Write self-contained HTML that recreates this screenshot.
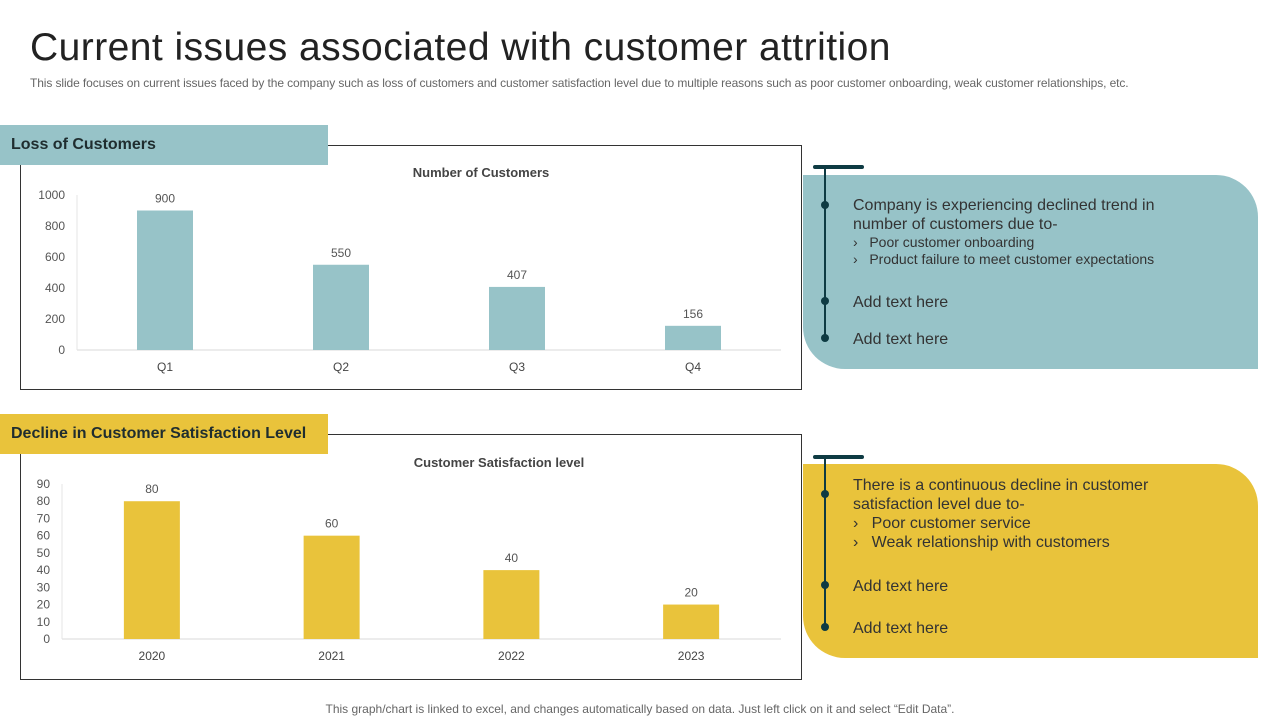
<!DOCTYPE html>
<html><head><meta charset="utf-8"><style>
body{margin:0;width:1280px;height:720px;background:#fff;font-family:"Liberation Sans",sans-serif;position:relative;overflow:hidden}
.abs{position:absolute}
.h1{left:30px;top:26px;font-size:39px;color:#222;letter-spacing:0.45px}
.sub{left:30px;top:76px;font-size:12px;color:#666;letter-spacing:-0.1px}
.hdr{left:0;width:328px;height:40px;font-size:16px;font-weight:bold;color:#1f2d2f;line-height:40px;padding-left:11px;box-sizing:border-box}
.box{left:20px;width:782px;border:1px solid #333;box-sizing:border-box}
.panel{left:803px;width:455px;border-radius:0 42px 0 42px}
.txt{font-size:16px;color:#333;line-height:19px}
.foot{left:0;width:1280px;top:702px;text-align:center;font-size:12px;color:#666}
</style></head><body>
<div class="abs h1">Current issues associated with customer attrition</div>
<div class="abs sub">This slide focuses on current issues faced by the company such as loss of customers and customer satisfaction level due to multiple reasons such as poor customer onboarding, weak customer relationships, etc.</div>

<div class="abs box" style="top:145px;height:245px"></div>
<div class="abs hdr" style="top:125px;background:#97C3C8">Loss of Customers</div>
<div class="abs box" style="top:434px;height:246px"></div>
<div class="abs hdr" style="top:414px;background:#E9C33B">Decline in Customer Satisfaction Level</div>

<svg class="abs" style="left:0;top:0" width="1280" height="720" id="charts"></svg>

<div class="abs panel" style="top:175px;height:194px;background:#97C3C8"></div>
<div class="abs panel" style="top:464px;height:194px;background:#E9C33B"></div>

<svg class="abs" style="left:0;top:0" width="1280" height="720">
<rect x="813" y="165" width="51" height="4" rx="2" fill="#0E3B43"/>
<line x1="825" y1="167" x2="825" y2="340" stroke="#0E3B43" stroke-width="2"/>
<circle cx="825" cy="205" r="4" fill="#0E3B43"/><circle cx="825" cy="301" r="4" fill="#0E3B43"/><circle cx="825" cy="338" r="4" fill="#0E3B43"/>
<rect x="813" y="455" width="51" height="4" rx="2" fill="#0E3B43"/>
<line x1="825" y1="457" x2="825" y2="629" stroke="#0E3B43" stroke-width="2"/>
<circle cx="825" cy="494" r="4" fill="#0E3B43"/><circle cx="825" cy="585" r="4" fill="#0E3B43"/><circle cx="825" cy="627" r="4" fill="#0E3B43"/>
</svg>

<div class="abs txt" style="left:853px;top:196px">Company is experiencing declined trend in<br>number of customers due to-</div>
<div class="abs txt" style="left:853px;top:234px;font-size:14px;line-height:17px">›&nbsp;&nbsp; Poor customer onboarding<br>›&nbsp;&nbsp; Product failure to meet customer expectations</div>
<div class="abs txt" style="left:853px;top:293px">Add text here</div>
<div class="abs txt" style="left:853px;top:330px">Add text here</div>

<div class="abs txt" style="left:853px;top:476px">There is a continuous decline in customer<br>satisfaction level due to-<br>›&nbsp;&nbsp; Poor customer service<br>›&nbsp;&nbsp; Weak relationship with customers</div>
<div class="abs txt" style="left:853px;top:577px">Add text here</div>
<div class="abs txt" style="left:853px;top:619px">Add text here</div>

<div class="abs foot">This graph/chart is linked to excel, and changes automatically based on data. Just left click on it and select “Edit Data”.</div>

<script>
const quarters=["Q1","Q2","Q3","Q4"];
const customers=[900,550,407,156];
const custTicks=[0,200,400,600,800,1000];
const years=["2020","2021","2022","2023"];
const satisfaction=[80,60,40,20];
const satTicks=[0,10,20,30,40,50,60,70,80,90];

const svg=document.getElementById('charts');
const NS="http://www.w3.org/2000/svg";
function mk(tag,attrs,text){const e=document.createElementNS(NS,tag);for(const k in attrs)e.setAttribute(k,attrs[k]);if(text!==undefined)e.textContent=text;svg.appendChild(e);return e;}
function chart(o){
  const y=v=>o.base-(v/o.max)*(o.base-o.top);
  const bw=(o.right-o.left)/o.cats.length;
  const x=i=>o.left+bw*(i+0.5);
  let t=mk('text',{x:o.titleX,y:o.titleY,'text-anchor':'middle','font-size':13,'font-weight':'bold',fill:'#444'},o.title);
  
  
  mk('line',{x1:o.left,y1:o.base,x2:o.right,y2:o.base,stroke:'#d9d9d9','stroke-width':1});
  mk('line',{x1:o.left,y1:o.top,x2:o.left,y2:o.base,stroke:'#e5e5e5','stroke-width':1});
  o.ticks.forEach(v=>{
    const e=mk('text',{x:o.left-12,y:y(v)+4,'text-anchor':'end','font-size':12,fill:'#555'},v);
    
    
  });
  o.vals.forEach((v,i)=>{
    const r=mk('rect',{x:x(i)-28,y:y(v),width:56,height:o.base-y(v),fill:o.color});
    
    
    const l=mk('text',{x:x(i),y:y(v)-8,'text-anchor':'middle','font-size':12,fill:'#555'},v);
    
    
    const c=mk('text',{x:x(i),y:o.base+21,'text-anchor':'middle','font-size':12,fill:'#444'},o.cats[i]);
    
    
  });
}
chart({cats:quarters,vals:customers,ticks:custTicks,max:1000,left:77,right:781,top:195,base:350,titleX:481,titleY:177,title:"Number of Customers",color:"#97C3C8",prefix:"customers"});
chart({cats:years,vals:satisfaction,ticks:satTicks,max:90,left:62,right:781,top:484,base:639,titleX:499,titleY:467,title:"Customer Satisfaction level",color:"#E9C33B",prefix:"satisfaction"});
</script>
</body></html>
